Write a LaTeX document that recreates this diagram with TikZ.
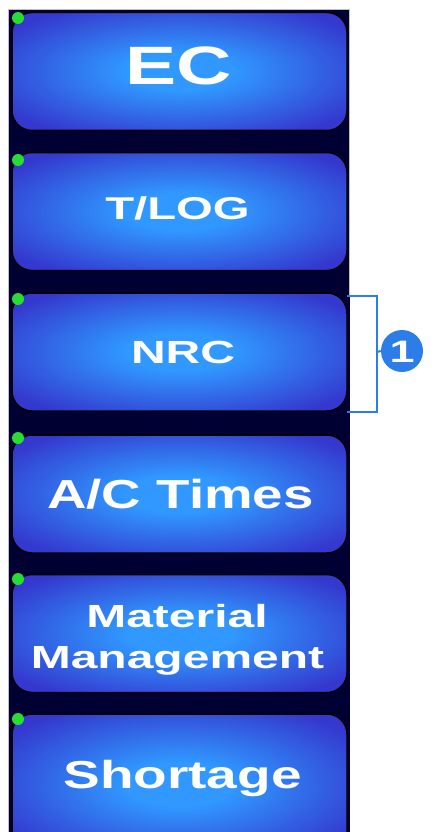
\documentclass[tikz,border=0pt]{standalone}
\usepackage{fontspec}
\setmainfont{Liberation Sans}
\definecolor{navy}{RGB}{0,0,51}
\definecolor{btnin}{RGB}{48,152,255}
\definecolor{btnout}{RGB}{52,56,206}
\definecolor{dotgreen}{RGB}{40,220,50}
\definecolor{markblue}{RGB}{45,125,232}
\pgfdeclareradialshading{btnshade}{\pgfpointorigin}{color(0bp)=(btnin); color(8bp)=(btnin); color(31bp)=(btnout); color(50bp)=(btnout)}
\tikzset{
  btn/.style={draw=black, line width=1.5pt, rounded corners=20pt, shading=btnshade,
    minimum width=335pt, minimum height=118pt, inner sep=0pt},
  lbl/.style={text=white, font=\bfseries, anchor=base, inner sep=0pt},
  gdot/.style={circle, fill=dotgreen, minimum size=12pt, inner sep=0pt},
  bracketline/.style={draw=markblue, line width=2pt},
}
\begin{document}
\begin{tikzpicture}[x=1pt,y=-1pt]
\useasboundingbox (0,0) rectangle (439,832);
\clip (0,0) rectangle (439,832);
\fill[white] (0,0) rectangle (439,832);
\draw[navy, fill=navy] (8,9) rectangle (349,840);
\draw[gray!50, line width=0.6pt] (8,845) -- (8,9) -- (349,9) -- (349,296);
% buttons
\node[btn] (ec) at (179.5,71.5) {};
\node[btn] (tlog) at (179.5,211.5) {};
\node[btn] (nrc) at (179.5,352) {};
\node[btn] (actimes) at (179.5,494) {};
\node[btn] (matmgmt) at (179.5,633.5) {};
\node[btn, minimum height=140pt] (shortage) at (179.5,784) {};
% green dots
\foreach \n/\y in {ec/18, tlog/160, nrc/299, actimes/438, matmgmt/579, shortage/719}
  \node[gdot] (dot-\n) at (18,\y) {};
% labels
\node[lbl, font=\bfseries\fontsize{54}{60}\selectfont, xscale=1.42] (ec-l) at (179,85) {EC};
\node[lbl, font=\bfseries\fontsize{31.5}{36}\selectfont, xscale=1.5] (tlog-l) at (177.5,219) {T/LOG};
\node[lbl, font=\bfseries\fontsize{32}{36}\selectfont, xscale=1.5] (nrc-l) at (183,363) {NRC};
\node[lbl, font=\bfseries\fontsize{40.5}{46}\selectfont, xscale=1.35] (actimes-l) at (180.5,508) {A/C Times};
\node[lbl, font=\bfseries\fontsize{32}{36}\selectfont, xscale=1.5] (mat-l) at (177,627) {Material};
\node[lbl, font=\bfseries\fontsize{32}{36}\selectfont, xscale=1.5] (mgmt-l) at (177.5,668) {Management};
\node[lbl, font=\bfseries\fontsize{39}{44}\selectfont, xscale=1.41] (shortage-l) at (182.5,788) {Shortage};
% bracket and badge
\coordinate (bt) at (347,296);
\coordinate (bb) at (347,412);
\coordinate (bm) at (377,352);
\node[circle, fill=markblue, minimum size=42pt, inner sep=0pt] (badge) at (402,351) {};
\node[lbl, font=\bfseries\fontsize{31}{34}\selectfont, xscale=1.45] (badge-l) at (402,362) {1};
\draw[bracketline] (bt) -- (bt -| bm) -- (bb -| bm) -- (bb);
\draw[bracketline] (bm) -- (badge.west);
\end{tikzpicture}
\end{document}
